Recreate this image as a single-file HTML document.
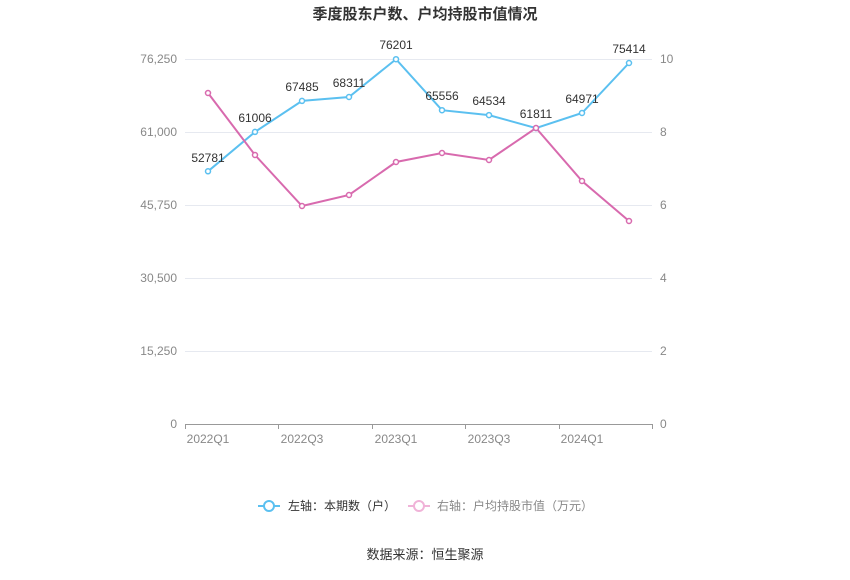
<!DOCTYPE html><html><head><meta charset="utf-8"><style>body{margin:0;background:#fff}svg{font-family:"Liberation Sans","Noto Sans CJK SC",sans-serif}</style></head><body>
<svg width="850" height="575" xmlns="http://www.w3.org/2000/svg">
<text x="425" y="19" text-anchor="middle" font-size="15" font-weight="bold" fill="#333">季度股东户数、户均持股市值情况</text>
<g stroke="#e6e9f0" stroke-width="1">
<line x1="185" x2="652" y1="59.5" y2="59.5"/><line x1="185" x2="652" y1="132.5" y2="132.5"/><line x1="185" x2="652" y1="205.5" y2="205.5"/><line x1="185" x2="652" y1="278.5" y2="278.5"/><line x1="185" x2="652" y1="351.5" y2="351.5"/></g>
<line x1="185" x2="652" y1="424.5" y2="424.5" stroke="#999"/>
<g stroke="#999"><line x1="185.5" x2="185.5" y1="424" y2="429"/><line x1="278.5" x2="278.5" y1="424" y2="429"/><line x1="372.5" x2="372.5" y1="424" y2="429"/><line x1="465.5" x2="465.5" y1="424" y2="429"/><line x1="559.5" x2="559.5" y1="424" y2="429"/><line x1="652.5" x2="652.5" y1="424" y2="429"/></g>
<g font-size="12" fill="#888" text-anchor="end"><text x="177" y="63">76,250</text><text x="177" y="136">61,000</text><text x="177" y="209">45,750</text><text x="177" y="282">30,500</text><text x="177" y="355">15,250</text><text x="177" y="428">0</text></g>
<g font-size="12" fill="#888"><text x="660" y="63">10</text><text x="660" y="136">8</text><text x="660" y="209">6</text><text x="660" y="282">4</text><text x="660" y="355">2</text><text x="660" y="428">0</text></g>
<g font-size="12" fill="#888" text-anchor="middle"><text x="208" y="443">2022Q1</text><text x="302" y="443">2022Q3</text><text x="396" y="443">2023Q1</text><text x="489" y="443">2023Q3</text><text x="582" y="443">2024Q1</text></g>
<polyline fill="none" stroke="#5bc0f0" stroke-width="2" points="208,171.3 255,131.9 302,100.9 349,97 396,59.2 442,110.2 489,115.1 536,128.1 582,113 629,63"/>
<polyline fill="none" stroke="#d86aae" stroke-width="2" points="208,93 255,155 302,206 349,195 396,162 442,153 489,160 536,128 582,181 629,221"/>
<g fill="#fff" stroke="#5bc0f0" stroke-width="1.5"><circle cx="208" cy="171.3" r="2.5"/><circle cx="255" cy="131.9" r="2.5"/><circle cx="302" cy="100.9" r="2.5"/><circle cx="349" cy="97" r="2.5"/><circle cx="396" cy="59.2" r="2.5"/><circle cx="442" cy="110.2" r="2.5"/><circle cx="489" cy="115.1" r="2.5"/><circle cx="536" cy="128.1" r="2.5"/><circle cx="582" cy="113" r="2.5"/><circle cx="629" cy="63" r="2.5"/></g>
<g fill="#fff" stroke="#d86aae" stroke-width="1.5"><circle cx="208" cy="93" r="2.5"/><circle cx="255" cy="155" r="2.5"/><circle cx="302" cy="206" r="2.5"/><circle cx="349" cy="195" r="2.5"/><circle cx="396" cy="162" r="2.5"/><circle cx="442" cy="153" r="2.5"/><circle cx="489" cy="160" r="2.5"/><circle cx="536" cy="128" r="2.5"/><circle cx="582" cy="181" r="2.5"/><circle cx="629" cy="221" r="2.5"/></g>
<g font-size="12" fill="#333" text-anchor="middle"><text x="208" y="162">52781</text><text x="255" y="122">61006</text><text x="302" y="91">67485</text><text x="349" y="87">68311</text><text x="396" y="49">76201</text><text x="442" y="100">65556</text><text x="489" y="105">64534</text><text x="536" y="118">61811</text><text x="582" y="103">64971</text><text x="629" y="53">75414</text></g>
<line x1="258" x2="280" y1="506" y2="506" stroke="#5bc0f0" stroke-width="2"/><circle cx="269" cy="506" r="5" fill="#fff" stroke="#5bc0f0" stroke-width="2"/>
<text x="288" y="510" font-size="12" fill="#333">左轴：本期数（户）</text>
<line x1="408" x2="430" y1="506" y2="506" stroke="#f0b3d8" stroke-width="2"/><circle cx="419" cy="506" r="5" fill="#fff" stroke="#f0b3d8" stroke-width="2"/>
<text x="437" y="510" font-size="12" fill="#888">右轴：户均持股市值（万元）</text>
<text x="425" y="559" text-anchor="middle" font-size="13" fill="#333">数据来源：恒生聚源</text>
</svg></body></html>
